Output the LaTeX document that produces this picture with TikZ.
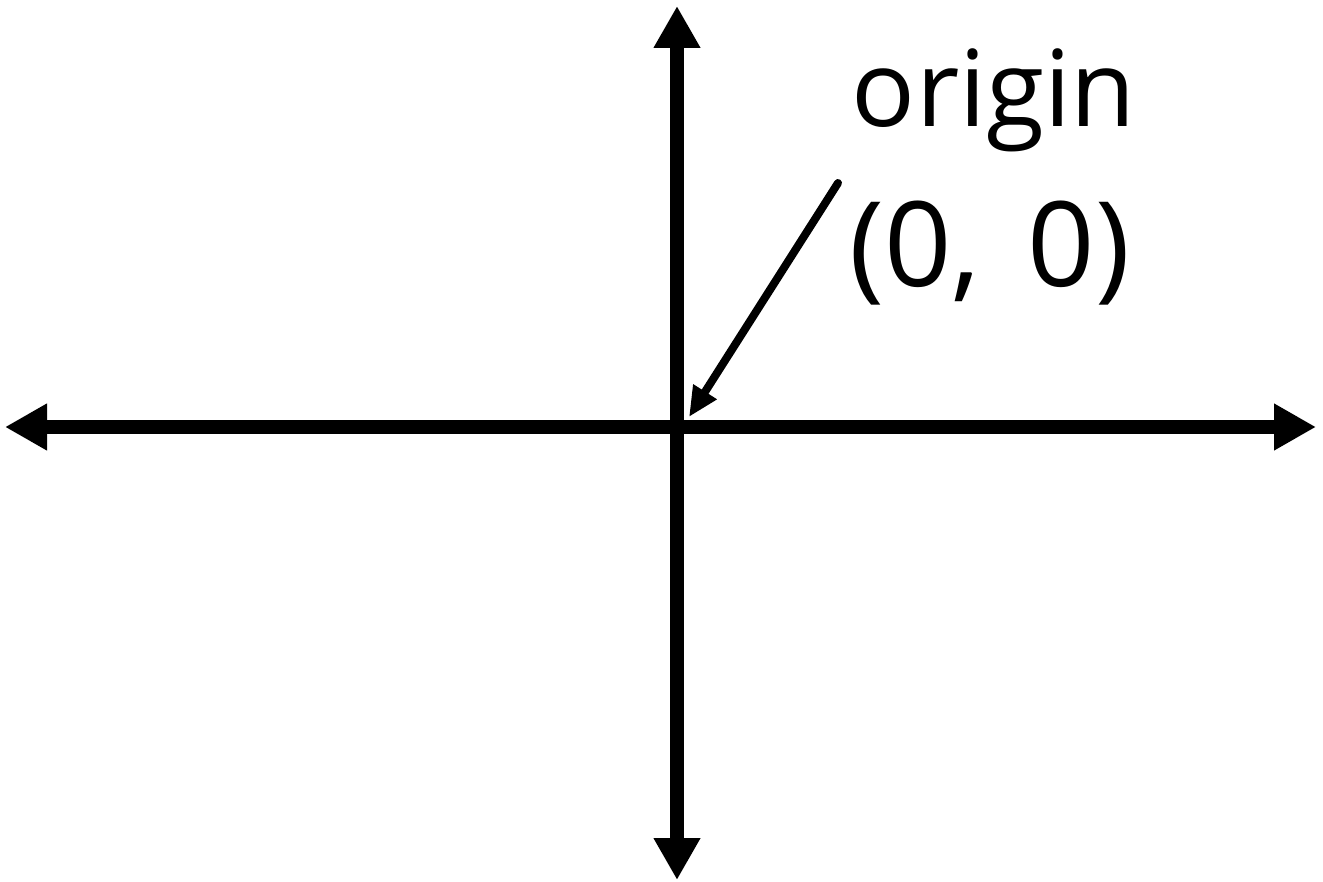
\documentclass[tikz,border=0pt]{standalone}
\usepackage{fontspec}
\setmainfont{Open Sans}
\usetikzlibrary{arrows.meta}
\begin{document}
\begin{tikzpicture}[x=1pt,y=-1pt,
  axis/.style={line width=14pt,{Triangle[length=42pt,width=44pt]}-{Triangle[length=42pt,width=44pt]}},
  callout/.style={line width=8pt,line cap=round,-{Triangle[length=30pt,width=26pt]}},
  lbl/.style={inner sep=0pt,anchor=base}]
\useasboundingbox (0,0) rectangle (1323,882);
\coordinate (top) at (677,6);
\coordinate (bottom) at (677,880);
\coordinate (left) at (5,427);
\coordinate (right) at (1316,427);
\coordinate (origin) at (689,417);
\coordinate (tail) at (838,183);
\draw[axis] (left) -- (right);
\draw[axis] (top) -- (bottom);
\node[lbl,font=\fontsize{106}{120}\selectfont] (word) at (994,127) {origin};
\node[lbl,font=\fontsize{118}{130}\selectfont] (coords) at (990,287) {(0,\hspace{0.4em}0)};
\draw[callout] (tail) -- (origin);
\end{tikzpicture}
\end{document}
